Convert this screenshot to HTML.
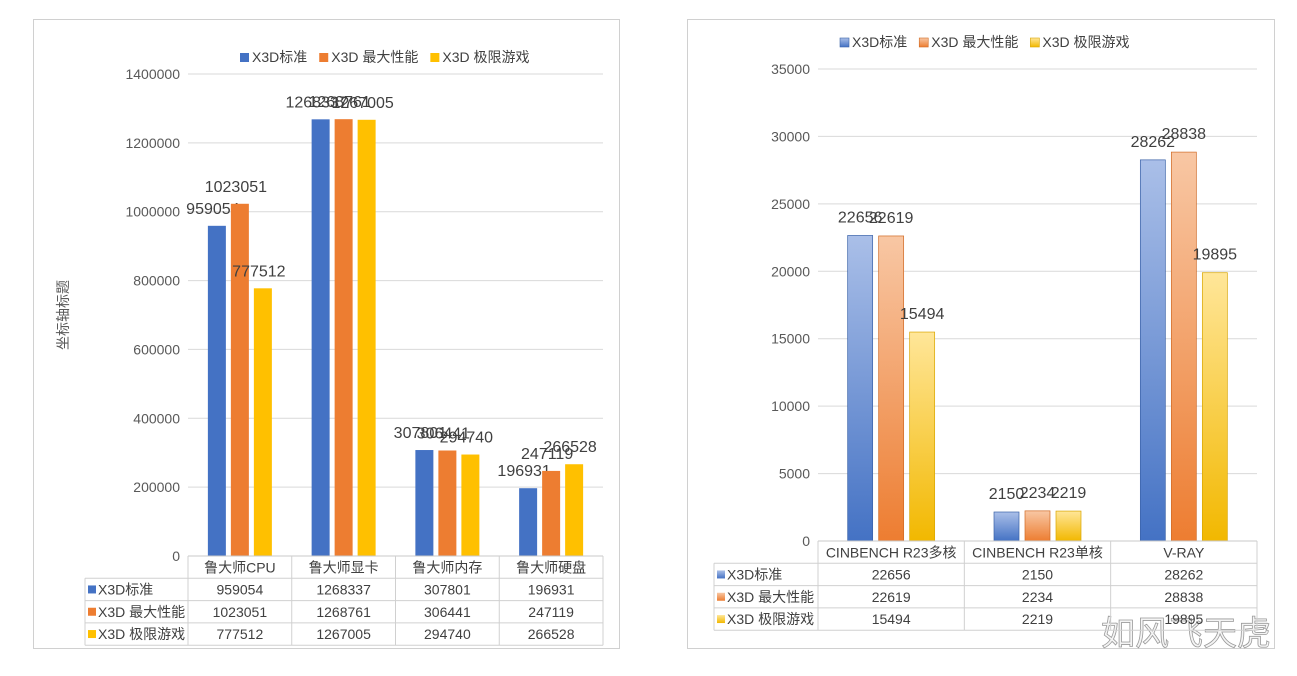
<!DOCTYPE html>
<html><head><meta charset="utf-8"><style>
body{margin:0;width:1297px;height:676px;background:#fff;overflow:hidden;font-family:"Liberation Sans","Noto Sans CJK SC",sans-serif}
svg{position:absolute;left:0;top:0}
text{font-family:"Liberation Sans","Noto Sans CJK SC",sans-serif}
</style></head><body>
<svg id="s" width="1297" height="676">
<defs>
<linearGradient id="gB" x1="0" y1="0" x2="0" y2="1"><stop offset="0" stop-color="#aabfe8"/><stop offset="1" stop-color="#4472c4"/></linearGradient>
<linearGradient id="gO" x1="0" y1="0" x2="0" y2="1"><stop offset="0" stop-color="#f8c7a4"/><stop offset="1" stop-color="#ed7d31"/></linearGradient>
<linearGradient id="gY" x1="0" y1="0" x2="0" y2="1"><stop offset="0" stop-color="#ffe699"/><stop offset="1" stop-color="#f2b800"/></linearGradient>
</defs>
<rect x="33.5" y="19.5" width="586" height="629" fill="#fff" stroke="#d0d0d0"/>
<rect x="687.5" y="19.5" width="587" height="629" fill="#fff" stroke="#d0d0d0"/>
<text x="68" y="315" font-size="14" fill="#595959" transform="rotate(-90 68 315)" text-anchor="middle">坐标轴标题</text>
<text x="1186" y="645" font-size="34" fill="#f4f4f4" stroke="#9a9a9a" stroke-width="0.8" text-anchor="middle">如风飞天虎</text>
</svg>
<script>
const seriesNames=["X3D标准","X3D 最大性能","X3D 极限游戏"];
const leftCats=["鲁大师CPU","鲁大师显卡","鲁大师内存","鲁大师硬盘"];
const leftA=[959054,1268337,307801,196931];
const leftB=[1023051,1268761,306441,247119];
const leftC=[777512,1267005,294740,266528];
const leftTicks=[0,200000,400000,600000,800000,1000000,1200000,1400000];
const rightCats=["CINBENCH R23多核","CINBENCH R23单核","V-RAY"];
const rightA=[22656,2150,28262];
const rightB=[22619,2234,28838];
const rightC=[15494,2219,19895];
const rightTicks=[0,5000,10000,15000,20000,25000,30000,35000];

const NS="http://www.w3.org/2000/svg",S=document.getElementById('s');
function el(t,a,txt){const e=document.createElementNS(NS,t);for(const k in a)e.setAttribute(k,a[k]);if(txt!==undefined)e.textContent=txt;S.appendChild(e);return e;}
const solid=["#4472c4","#ed7d31","#ffc000"],grad=["url(#gB)","url(#gO)","url(#gY)"],border=["#3a62a8","#d06a24","#d9a600"];

function chart(o){
  const y=v=>o.y0-(v-o.tmin)/(o.tmax-o.tmin)*(o.y0-o.y1);
  const cw=(o.x1-o.x0)/o.cats.length;
  o.ticks.forEach(t=>{
    if(t>0){const g=el('line',{x1:o.x0,x2:o.x1,y1:y(t),y2:y(t),stroke:'#d9d9d9'});
    }
    const l=el('text',{x:o.x0-8,y:y(t)+5,'font-size':14,fill:'#595959','text-anchor':'end'},t);
    
  });
  const series=[o.a,o.b,o.c];
  o.cats.forEach((c,i)=>{
    const cx=o.x0+cw*(i+0.5);
    series.forEach((s,j)=>{
      const bx=cx+(j-1)*(o.bw+o.gap)-o.bw/2, by=y(s[i]);
      const r=el('rect',{x:bx,y:by,width:o.bw,height:o.y0-by,fill:o.gr?grad[j]:solid[j],stroke:o.gr?border[j]:'none','stroke-width':0.7});
      
      const t=el('text',{x:bx+o.bw/2+o.lx0,y:by-o.lo,'font-size':16,fill:'#404040','text-anchor':'middle'},s[i]);
      
    });
  });
  const rh=o.rh, tl=o.tl;
  el('line',{x1:o.x0,x2:o.x1,y1:o.y0,y2:o.y0,stroke:'#c8c8c8'});
  for(let r=1;r<=4;r++){el('line',{x1:tl,x2:o.x1,y1:o.y0+r*rh,y2:o.y0+r*rh,stroke:'#d0d0d0'});}
  el('line',{x1:tl,x2:tl,y1:o.y0+rh,y2:o.y0+4*rh,stroke:'#d0d0d0'});
  for(let i=0;i<=o.cats.length;i++)el('line',{x1:o.x0+cw*i,x2:o.x0+cw*i,y1:o.y0,y2:o.y0+4*rh,stroke:'#d0d0d0'});
  o.cats.forEach((c,i)=>{
    const t=el('text',{x:o.x0+cw*(i+0.5),y:o.y0+rh-6,'font-size':14,fill:'#404040','text-anchor':'middle'},c);
    
    series.forEach((s,j)=>{
      const v=el('text',{x:o.x0+cw*(i+0.5),y:o.y0+(j+2)*rh-6,'font-size':14,fill:'#404040','text-anchor':'middle'},s[i]);
      
    });
  });
  seriesNames.forEach((n,j)=>{
    el('rect',{x:tl+3,y:o.y0+(j+1)*rh+rh/2-4,width:8,height:8,fill:o.gr?grad[j]:solid[j]});
    const t=el('text',{x:tl+13,y:o.y0+(j+2)*rh-6,'font-size':14,fill:'#404040'},n);
    
  });
  let lx=o.lx;
  seriesNames.forEach((n,j)=>{
    el('rect',{x:lx,y:o.ly-9,width:9,height:9,fill:o.gr?grad[j]:solid[j],stroke:o.gr?border[j]:'none','stroke-width':0.6});
    const t=el('text',{x:lx+12,y:o.ly,'font-size':14,fill:'#404040'},n);
    
    lx+=12+t.getComputedTextLength()+12;
  });
}
chart({cats:leftCats,a:leftA,b:leftB,c:leftC,ticks:leftTicks,tmin:0,tmax:1400000,x0:188,x1:603,y0:556,y1:74,bw:18,gap:5,rh:22.3,tl:85,lx:240,ly:62,gr:false,lo:12,lx0:-4});
chart({cats:rightCats,a:rightA,b:rightB,c:rightC,ticks:rightTicks,tmin:0,tmax:35000,x0:818,x1:1257,y0:541,y1:69,bw:25,gap:6,rh:22.3,tl:714,lx:840,ly:47,gr:true,lo:13,lx0:0});
</script>
</body></html>
